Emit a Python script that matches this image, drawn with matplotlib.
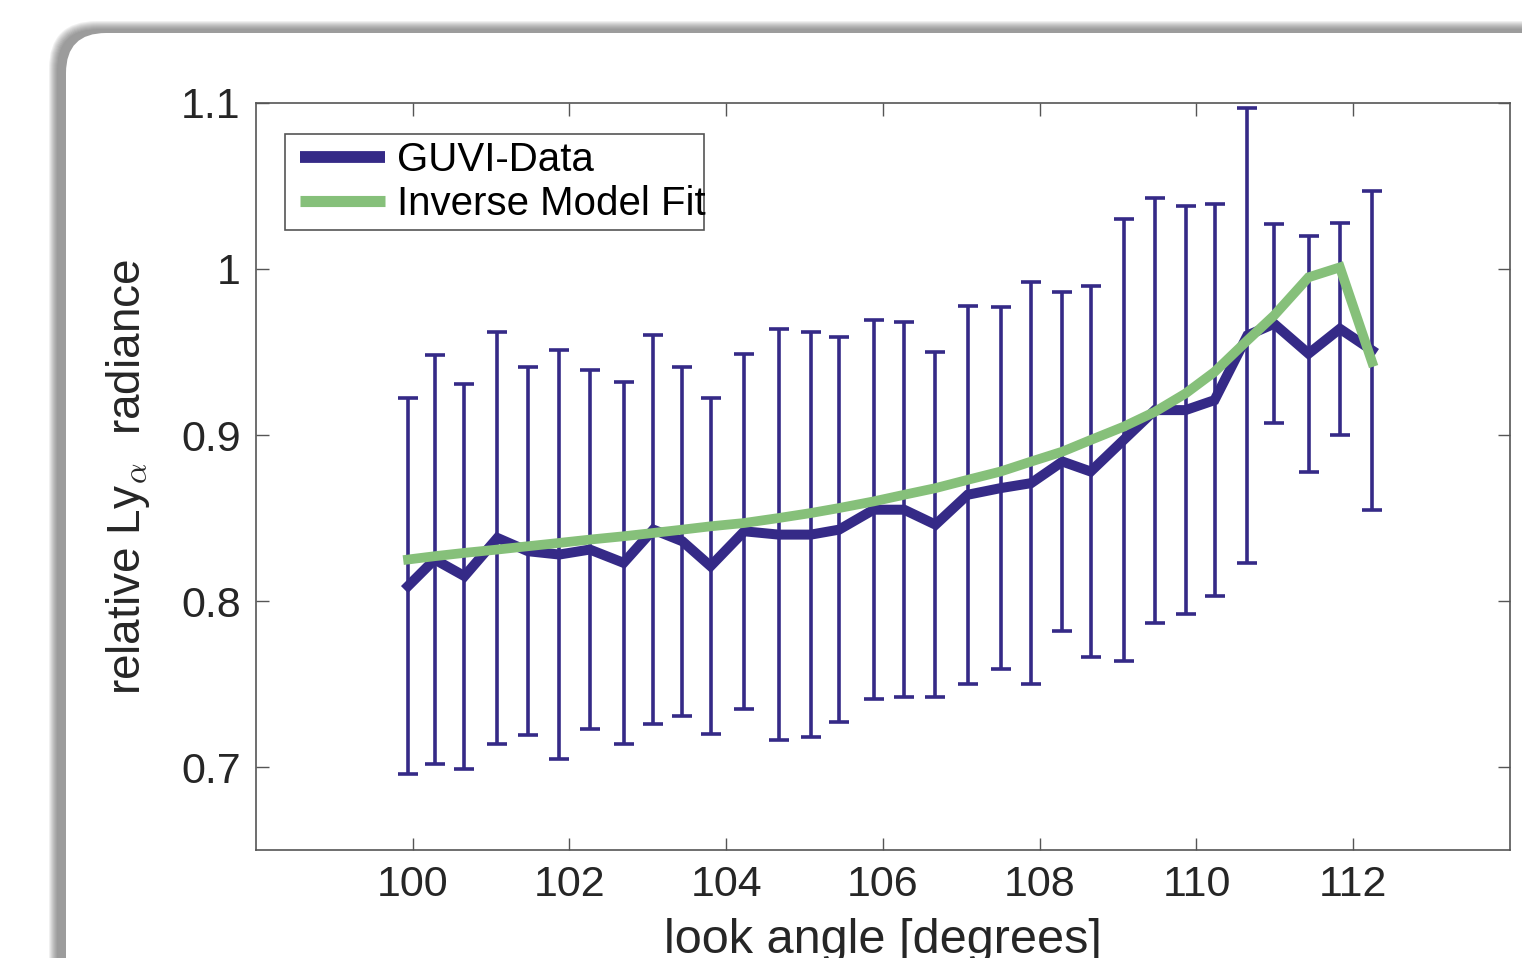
import numpy as np
import matplotlib.pyplot as plt
from matplotlib.patches import FancyBboxPatch, Rectangle
from matplotlib.transforms import IdentityTransform
from matplotlib.lines import Line2D

plt.rcParams['font.family'] = ['Liberation Sans', 'DejaVu Sans']
plt.rcParams['mathtext.fontset'] = 'cm'

# look angle of each GUVI sample [degrees]
look_angle = [99.94, 100.28, 100.66, 101.08, 101.47, 101.87, 102.26, 102.69,
              103.07, 103.44, 103.80, 104.23, 104.67, 105.08, 105.44, 105.88,
              106.27, 106.67, 107.08, 107.50, 107.89, 108.29, 108.65, 109.07,
              109.47, 109.86, 110.23, 110.65, 110.99, 111.43, 111.83, 112.24]
# relative Ly-alpha radiance, measured
guvi_data = [0.809, 0.825, 0.815, 0.838, 0.830, 0.828, 0.831, 0.823,
             0.843, 0.836, 0.821, 0.842, 0.840, 0.840, 0.843, 0.855,
             0.855, 0.846, 0.864, 0.868, 0.871, 0.884, 0.878, 0.897,
             0.915, 0.915, 0.921, 0.960, 0.967, 0.949, 0.964, 0.951]
guvi_err = [0.113, 0.123, 0.116, 0.124, 0.111, 0.123, 0.108, 0.109,
            0.117, 0.105, 0.101, 0.107, 0.124, 0.122, 0.116, 0.114,
            0.113, 0.104, 0.114, 0.109, 0.121, 0.102, 0.112, 0.133,
            0.128, 0.123, 0.118, 0.137, 0.060, 0.071, 0.064, 0.096]
# inverse model fit
model_fit = [0.825, 0.827, 0.829, 0.831, 0.833, 0.835, 0.837, 0.839,
             0.841, 0.843, 0.845, 0.847, 0.850, 0.853, 0.856, 0.860,
             0.864, 0.868, 0.873, 0.878, 0.884, 0.890, 0.897, 0.905,
             0.914, 0.925, 0.938, 0.957, 0.972, 0.995, 1.001, 0.944]

blue = '#352a87'
green = '#86c07a'

fig = plt.figure(figsize=(15.22, 9.58), dpi=100)
fig.patch.set_facecolor('white')

# rounded card with a soft shadow (pixel coords, origin bottom left)
for k in range(9):
    fig.patches.append(FancyBboxPatch((57 - k, -100), 1700 + 2 * k, 1029 + k,
                                      boxstyle='round,pad=0,rounding_size=%d' % (40 + k),
                                      transform=IdentityTransform(),
                                      facecolor='#555555', edgecolor='none',
                                      alpha=0.085, zorder=-10))
fig.patches.append(FancyBboxPatch((66, -100), 1700, 1025,
                                  boxstyle='round,pad=0,rounding_size=40',
                                  transform=IdentityTransform(),
                                  facecolor='white', edgecolor='none', zorder=-5))

ax = fig.add_axes([0.1682, 0.1127, 0.8239, 0.7798])
ax.set_facecolor('white')

ax.errorbar(look_angle, guvi_data, yerr=guvi_err, fmt='none', ecolor=blue,
            elinewidth=2.6, capsize=7, capthick=2.6, zorder=2)
ax.plot(look_angle, guvi_data, color=blue, lw=7.2, solid_joinstyle='miter', zorder=3)
ax.plot(look_angle, model_fit, color=green, lw=7, solid_joinstyle='miter', zorder=4)

ax.set_xlim(98, 114)
ax.set_ylim(0.65, 1.1)
ax.set_xticks([100, 102, 104, 106, 108, 110, 112])
ax.set_yticks([0.7, 0.8, 0.9, 1.0, 1.1])
ax.set_yticklabels(['0.7', '0.8', '0.9', '1', '1.1'])

ax.tick_params(direction='in', length=9, width=1, top=True, right=True,
               labelsize=31, colors='#555555', labelcolor='#262626', pad=11)
for s in ax.spines.values():
    s.set_color('#555555')
    s.set_linewidth(1.2)

ax.set_xlabel('look angle [degrees]', fontsize=35, color='#262626', labelpad=9)
ax.set_ylabel('relative Ly$_{\\alpha}$  radiance', fontsize=33, color='#262626')
ax.yaxis.set_label_coords(-0.083, 0.5)

# legend: entries without frame, box drawn separately (text runs to its edge)
handles = [Line2D([], [], color=blue, lw=8.5, solid_capstyle='butt'),
           Line2D([], [], color=green, lw=8, solid_capstyle='butt')]
ax.legend(handles, ['GUVI-Data', 'Inverse Model Fit'], loc='upper left',
          bbox_to_anchor=(0.0351, 0.949), fontsize=29, frameon=False,
          borderaxespad=0, borderpad=0, handlelength=2.1,
          handletextpad=0.3, labelspacing=0.15)
ax.add_patch(Rectangle((0.0231, 0.830), 0.3341, 0.1285, transform=ax.transAxes,
                       facecolor='none', edgecolor='#555555', lw=1.2, zorder=5))

fig.savefig('out.png', dpi=100)
